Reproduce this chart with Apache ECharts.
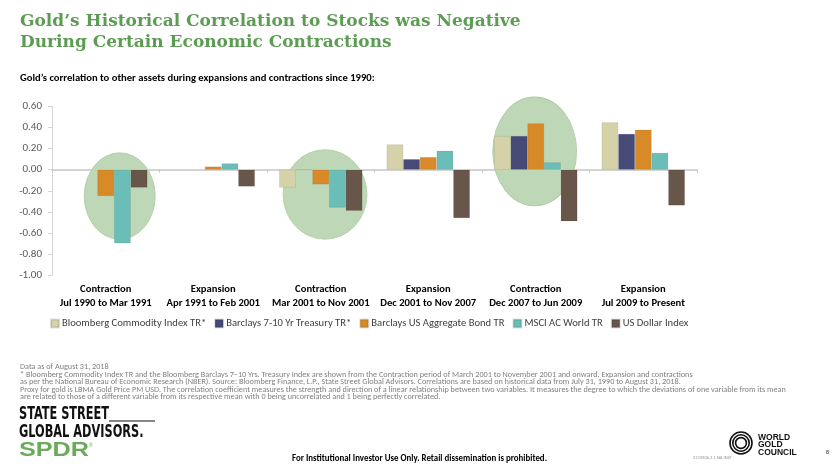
<!DOCTYPE html>
<html>
<head>
<meta charset="utf-8">
<script src="https://cdn.jsdelivr.net/npm/echarts@6/dist/echarts.min.js"></script>
<style>
html,body{margin:0;padding:0;background:#fff;}
#c{width:840px;height:473px;}
</style>
</head>
<body>
<div id="c"></div>
<script>
// ---- Data ----
var periods = ['Contraction', 'Expansion', 'Contraction', 'Expansion', 'Contraction', 'Expansion'];
var periodDates = ['Jul 1990 to Mar 1991', 'Apr 1991 to Feb 2001', 'Mar 2001 to Nov 2001', 'Dec 2001 to Nov 2007', 'Dec 2007 to Jun 2009', 'Jul 2009 to Present'];
var seriesNames = ['Bloomberg Commodity Index TR*', 'Barclays 7-10 Yr Treasury TR*', 'Barclays US Aggregate Bond TR', 'MSCI AC World TR', 'US Dollar Index'];
var commodity = [null, null, -0.17, 0.24, 0.32, 0.45];
var treasury  = [null, null, 0.00, 0.10, 0.32, 0.34];
var aggBond   = [-0.25, 0.03, -0.14, 0.12, 0.44, 0.38];
var msciWorld = [-0.70, 0.06, -0.36, 0.18, 0.07, 0.16];
var usDollar  = [-0.17, -0.16, -0.39, -0.46, -0.49, -0.34];
var yTicks = [-1.0, -0.8, -0.6, -0.4, -0.2, 0.0, 0.2, 0.4, 0.6];

// highlighted contraction periods (category index, value centre, value half-height)
var hlCats = [0, 2, 4];
var hlCenter = [-0.25, -0.235, 0.173];
var hlHalf = [0.41, 0.425, 0.516];
var hlShift = [0.13, 0.04, -0.01];   // fraction of band width
var hlRadius = [0.33, 0.39, 0.39];   // fraction of band width

var colors = ['#d5d2aa', '#464a77', '#d88a28', '#6bbdb7', '#68564a'];
var values = [commodity, treasury, aggBond, msciWorld, usDollar];

var footnotes = [
  'Data as of August 31, 2018',
  '* Bloomberg Commodity Index TR and the Bloomberg Barclays 7\u201310 Yrs. Treasury Index are shown from the Contraction period of March 2001 to November 2001 and onward. Expansion and contractions',
  'as per the National Bureau of Economic Research (NBER). Source: Bloomberg Finance, L.P., State Street Global Advisors. Correlations are based on historical data from July 31, 1990 to August 31, 2018.',
  'Proxy for gold is LBMA Gold Price PM USD. The correlation coefficient measures the strength and direction of a linear relationship between two variables. It measures the degree to which the deviations of one variable from its mean',
  'are related to those of a different variable from its respective mean with 0 being uncorrelated and 1 being perfectly correlated.'
];

var FONT = 'Carlito, Lato, "Liberation Sans", sans-serif';
var COND = '"DejaVu Sans Condensed", "Liberation Sans Narrow", sans-serif';

var chart = echarts.init(document.getElementById('c'), null, {renderer: 'canvas'});

var series = seriesNames.map(function (n, i) {
  return {
    name: n,
    type: 'bar',
    xAxisIndex: 0,
    data: values[i],
    barGap: '0%',
    barCategoryGap: '22.5%',
    itemStyle: {color: colors[i], borderColor: 'rgba(0,0,0,0.12)', borderWidth: 0.6},
    z: 3,
    emphasis: {disabled: true}
  };
});

var g = [];
var gid = 0;
function add(o) { o.id = 'g' + (gid++); g.push(o); }
add({
  type: 'text', left: 20, top: 11, z: 10,
  style: {text: 'Gold\u2019s Historical Correlation to Stocks was Negative\nDuring Certain Economic Contractions',
    fill: '#5c9c53', font: 'bold 17px "DejaVu Serif", Georgia, serif', lineHeight: 21}
});
add({
  type: 'text', left: 20, top: 73, z: 10,
  style: {text: 'Gold\u2019s correlation to other assets during expansions and contractions since 1990:',
    fill: '#000', font: 'bold 10.6px ' + FONT}
});
footnotes.forEach(function (t, i) {
  add({
    type: 'text', left: 20, top: 363 + i * 7.5, z: 10,
    style: {text: t, fill: '#7f7f7f', font: '8.2px ' + FONT}
  });
});
// footer
add({type: 'text', left: 19, top: 405, z: 10, scaleX: 0.7,
  style: {text: 'STATE STREET', fill: '#111', font: 'bold 18px ' + COND}});
add({type: 'line', z: 10, shape: {x1: 109, y1: 421, x2: 155, y2: 421}, style: {stroke: '#111', lineWidth: 1}});
add({type: 'text', left: 19, top: 423, z: 10, scaleX: 0.7,
  style: {text: 'GLOBAL ADVISORS.', fill: '#111', font: 'bold 18px ' + COND}});
add({type: 'text', left: 19, top: 440, z: 10, scaleX: 1.2,
  style: {text: 'SPDR', fill: '#6aaa5a', font: 'bold 21px "Liberation Sans", Arial, sans-serif'}});
add({type: 'text', left: 89, top: 443, z: 10,
  style: {text: '\u00ae', fill: '#6aaa5a', font: '5px "Liberation Sans", sans-serif'}});
add({type: 'text', left: 292, top: 454, z: 10,
  style: {text: 'For Institutional Investor Use Only. Retail dissemination is prohibited.', fill: '#000',
    font: 'bold 8.9px ' + FONT}});
add({type: 'text', left: 693, top: 455, z: 10,
  style: {text: '2233906.3.1.NA.INST', fill: '#999', font: '4.5px ' + FONT}});
[11, 8.2, 5.4].forEach(function (r) {
  add({type: 'circle', z: 10, shape: {cx: 741, cy: 443, r: r},
    style: {fill: 'none', stroke: '#111', lineWidth: 1.6}});
});
['WORLD', 'GOLD', 'COUNCIL'].forEach(function (t, i) {
  add({type: 'text', left: 758, top: 433 + i * 7.6, z: 10,
    style: {text: t, fill: '#111', font: 'bold 8.5px "Liberation Sans", Arial, sans-serif'}});
});
add({type: 'text', left: 826, top: 449, z: 10,
  style: {text: '8', fill: '#333', font: '6px ' + FONT}});

var option = {
  animation: false,
  backgroundColor: '#fff',
  color: colors,
  grid: {left: 52, right: 143, top: 106.5, bottom: 198, containLabel: false},
  legend: {
    data: seriesNames,
    top: 313,
    left: 45,
    icon: 'rect',
    itemWidth: 8,
    itemHeight: 8,
    itemGap: 8,
    textStyle: {fontFamily: FONT, fontSize: 10.6, color: '#404040', padding: [0, 0, 0, -2]}
  },
  xAxis: [{
    type: 'category',
    data: periods,
    position: 'bottom',
    axisLine: {show: false, onZero: false},
    axisTick: {show: false},
    axisLabel: {
      interval: 0,
      margin: 8,
      formatter: function (v, i) { return '{a|' + v + '}\n{a|' + periodDates[i] + '}'; },
      rich: {a: {fontFamily: FONT, fontWeight: 'bold', fontSize: 10.6, color: '#000', lineHeight: 13.5}}
    }
  }, {
    type: 'category',
    data: periods,
    position: 'top',
    axisLine: {show: true, onZero: true, lineStyle: {color: '#d4d4d4', width: 2}},
    axisTick: {show: true, inside: true, length: 3, lineStyle: {color: '#c8c8c8'}},
    axisLabel: {show: false},
    z: 0
  }],
  yAxis: {
    type: 'value',
    min: yTicks[0],
    max: yTicks[yTicks.length - 1],
    interval: 0.2,
    axisLine: {show: true, lineStyle: {color: '#d4d4d4'}},
    axisTick: {show: true, length: 4, lineStyle: {color: '#d4d4d4'}},
    splitLine: {show: false},
    axisLabel: {
      margin: 10,
      fontFamily: FONT, fontSize: 11, color: '#595959',
      formatter: function (v) { return v.toFixed(2); }
    }
  },
  graphic: g,
  series: series
};

chart.setOption(option);

// highlight ellipses placed via the chart's own scales (by category index)
var bandW = chart.convertToPixel({xAxisIndex: 0}, 1) - chart.convertToPixel({xAxisIndex: 0}, 0);
var ellipses = hlCats.map(function (ci, k) {
  var cx = chart.convertToPixel({xAxisIndex: 0}, ci) + hlShift[k] * bandW;
  var cy = chart.convertToPixel({yAxisIndex: 0}, hlCenter[k]);
  var top = chart.convertToPixel({yAxisIndex: 0}, hlCenter[k] + hlHalf[k]);
  var ry = cy - top;
  var rx = hlRadius[k] * bandW;
  return {
    id: 'ell' + k,
    type: 'circle',
    z: 1,
    x: cx, y: cy,
    scaleY: ry / rx,
    shape: {cx: 0, cy: 0, r: rx},
    style: {fill: '#bed7b6', stroke: '#aecca3', lineWidth: 0.8},
    silent: true
  };
});
chart.setOption({graphic: ellipses});
</script>
</body>
</html>
